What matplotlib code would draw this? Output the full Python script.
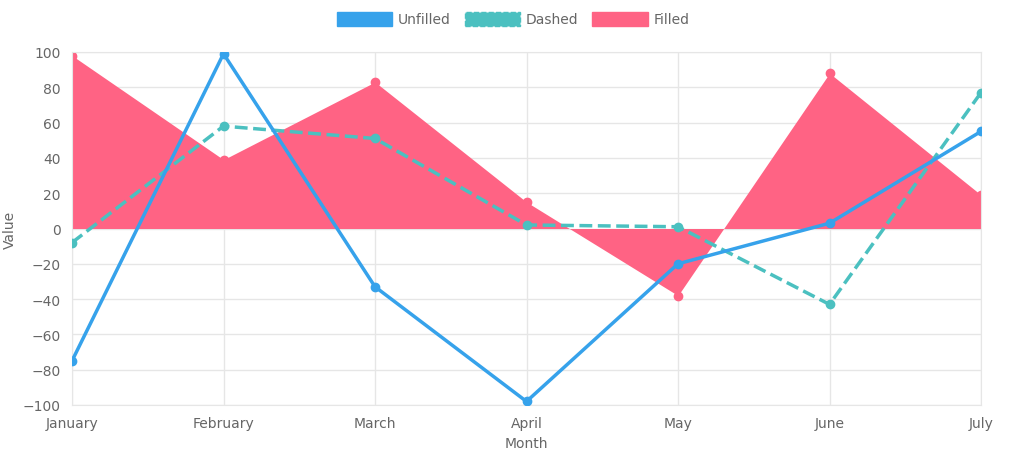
import matplotlib.pyplot as plt
from matplotlib.patches import Patch

months = ['January', 'February', 'March', 'April', 'May', 'June', 'July']
unfilled = [-75, 99, -33, -98, -20, 3, 55]
dashed = [-8, 58, 51, 2, 1, -43, 77]
filled = [98, 39, 83, 15, -38, 88, 19]

blue = '#36a2eb'
teal = '#4bc0c0'
red = '#ff6384'

fig = plt.figure(figsize=(10.26, 4.77), dpi=100)
ax = fig.add_axes([72 / 1026, 1 - 406 / 477, (981 - 72) / 1026, (406 - 53) / 477])
x = range(len(months))

ax.fill_between(x, filled, 0, color=red, lw=0, zorder=1)
ax.plot(x, filled, 'o', color=red, ms=6, zorder=2)
ax.plot(x, dashed, '--', color=teal, lw=2.5, marker='o', ms=6, zorder=3)
ax.plot(x, unfilled, '-', color=blue, lw=2.5, marker='o', ms=6, zorder=4)

ax.set_xlim(0, 6)
ax.set_ylim(-100, 100)
ax.set_yticks(range(-100, 101, 20))
ax.set_xticks(list(x))
ax.set_xticklabels(months)
ax.grid(color='#e6e6e6', lw=1)
ax.set_axisbelow(True)
for s in ax.spines.values():
    s.set_color('#e6e6e6')
ax.tick_params(colors='#666666', labelsize=10, length=0, pad=8)
ax.set_xlabel('Month', color='#666666', fontsize=10)
ax.set_ylabel('Value', color='#666666', fontsize=10)

handles = [Patch(facecolor=blue, edgecolor=blue), Patch(facecolor=teal, edgecolor=teal, ls='--'),
           Patch(facecolor=red, edgecolor=red)]
fig.legend(handles, ['Unfilled', 'Dashed', 'Filled'], loc='upper center', ncol=3, frameon=False,
           bbox_to_anchor=(0.5, 1.0), handlelength=4, handleheight=1.2, columnspacing=1,
           handletextpad=0.4, labelcolor='#666666', fontsize=10)

fig.savefig('out.png', dpi=100)
